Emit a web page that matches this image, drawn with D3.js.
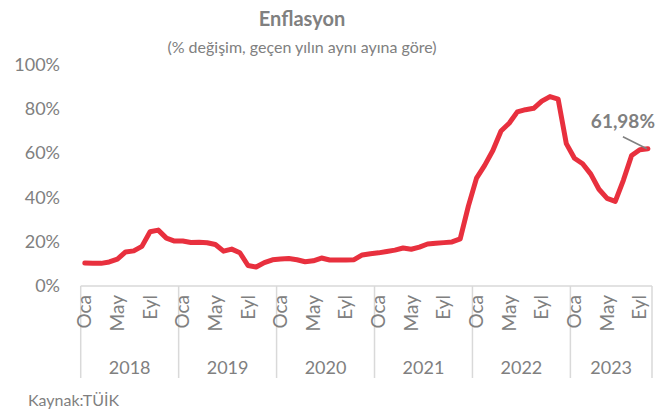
<!DOCTYPE html>
<html>
<head>
<meta charset="utf-8">
<script src="https://cdn.jsdelivr.net/npm/d3@7"></script>
<style>
    body { margin: 0; background: #fff; }
    text { font-family: Lato, "Open Sans", sans-serif; }
</style>
</head>
<body>
<div id="main"></div>
<script>
// yillik TUFE, Oca 2018 - Eki 2023
let years = ['2018', '2019', '2020', '2021', '2022', '2023'];
let monthNames = ['Oca', 'Şub', 'Mar', 'Nis', 'May', 'Haz', 'Tem', 'Ağu', 'Eyl', 'Eki', 'Kas', 'Ara'];
let shownMonths = ['Oca', 'May', 'Eyl'];

let v2018 = [10.35, 10.26, 10.23, 10.85, 12.15, 15.39, 15.85, 17.90, 24.52, 25.24, 21.62, 20.30];
let v2019 = [20.35, 19.67, 19.71, 19.50, 18.71, 15.72, 16.65, 15.01, 9.26, 8.55, 10.56, 11.84];
let v2020 = [12.15, 12.37, 11.86, 10.94, 11.39, 12.62, 11.76, 11.77, 11.75, 11.89, 14.03, 14.60];
let v2021 = [14.97, 15.61, 16.19, 17.14, 16.59, 17.53, 18.95, 19.25, 19.58, 19.89, 21.31, 36.08];
let v2022 = [48.69, 54.44, 61.14, 69.97, 73.50, 78.62, 79.60, 80.21, 83.45, 85.51, 84.39, 64.27];
let v2023 = [57.68, 55.18, 50.51, 43.68, 39.59, 38.21, 47.83, 58.94, 61.53, 61.98];

let yTicks = [0, 20, 40, 60, 80, 100];

let series = [v2018, v2019, v2020, v2021, v2022, v2023];
let data = [];
series.forEach((vals, yi) => {
    vals.forEach((v, mi) => {
        data.push({ key: years[yi] + '-' + mi, year: years[yi], month: monthNames[mi], value: v });
    });
});

let width = 669, height = 415;
let svg = d3.select('#main').append('svg').attr('width', width).attr('height', height);

let x = d3.scaleBand()
    .domain(data.map(d => d.key))
    .range([80.7, 652]);

let y = d3.scaleLinear()
    .domain([0, 100])
    .range([286, 64.5]);

let grey = '#808080';

// baslik
svg.append('text')
    .attr('x', 302).attr('y', 26)
    .attr('text-anchor', 'middle')
    .style('font-size', '20px').style('font-weight', 'bold')
    .style('fill', grey)
    .text('Enflasyon');

svg.append('text')
    .attr('x', 302).attr('y', 53)
    .attr('text-anchor', 'middle')
    .style('font-size', '16px')
    .style('fill', grey)
    .text('(% değişim, geçen yılın aynı ayına göre)');

// y ekseni
let yAxis = d3.axisLeft(y)
    .tickValues(yTicks)
    .tickFormat(d => d + '%')
    .tickSize(0)
    .tickPadding(0);

let gy = svg.append('g')
    .attr('transform', 'translate(60,0)')
    .call(yAxis);
gy.select('.domain').remove();
gy.selectAll('text')
    .style('font-size', '18px')
    .style('fill', grey)
    .style('font-family', 'Lato, sans-serif');

// x ekseni (iki seviyeli)
let axisColor = '#d9d9d9';
svg.append('line')
    .attr('x1', x.range()[0]).attr('x2', x.range()[1])
    .attr('y1', 286).attr('y2', 286)
    .style('stroke', axisColor).style('stroke-width', 1.5);

let yearStarts = years.map(yr => x(yr + '-0'));
yearStarts.push(x.range()[1]);

svg.append('g').selectAll('line')
    .data(yearStarts)
    .enter()
    .append('line')
    .attr('x1', d => d).attr('x2', d => d)
    .attr('y1', 286).attr('y2', 378)
    .style('stroke', axisColor).style('stroke-width', 1.5);

svg.append('g').selectAll('text')
    .data(data.filter(d => shownMonths.indexOf(d.month) >= 0))
    .enter()
    .append('text')
    .attr('transform', d => 'translate(' + (x(d.key) + x.bandwidth() / 2 + 6.5) + ',295) rotate(-90)')
    .attr('text-anchor', 'end')
    .style('font-size', '19px')
    .style('fill', grey)
    .text(d => d.month);

svg.append('g').selectAll('text')
    .data(years)
    .enter()
    .append('text')
    .attr('x', (d, i) => (yearStarts[i] + yearStarts[i + 1]) / 2)
    .attr('y', 374)
    .attr('text-anchor', 'middle')
    .style('font-size', '18px')
    .style('fill', grey)
    .text(d => d);

// cizgi
let line = d3.line()
    .x(d => x(d.key) + x.bandwidth() / 2)
    .y(d => y(d.value));

svg.append('path')
    .datum(data)
    .attr('d', line)
    .style('fill', 'none')
    .style('stroke', '#e8303e')
    .style('stroke-width', 5)
    .style('stroke-linejoin', 'round')
    .style('stroke-linecap', 'round');

// son deger etiketi
let last = data[data.length - 1];
let lx = x(last.key) + x.bandwidth() / 2;
let ly = y(last.value);

svg.append('line')
    .attr('x1', lx - 25).attr('y1', ly - 12)
    .attr('x2', lx - 1).attr('y2', ly)
    .style('stroke', grey).style('stroke-width', 1.5);

svg.append('text')
    .attr('x', lx - 25).attr('y', ly - 21)
    .attr('text-anchor', 'middle')
    .style('font-size', '19px').style('font-weight', 'bold')
    .style('fill', grey)
    .text(d3.format('.2f')(last.value).replace('.', ',') + '%');

// kaynak
svg.append('text')
    .attr('x', 28).attr('y', 406)
    .style('font-size', '16px')
    .style('fill', '#7f7f7f')
    .text('Kaynak:TÜİK');
</script>
</body>
</html>
